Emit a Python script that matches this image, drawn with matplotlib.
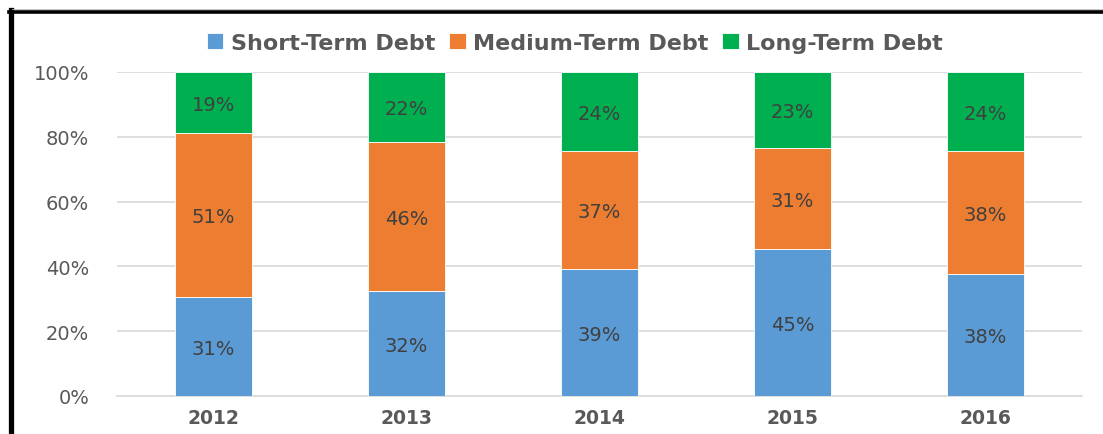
import matplotlib
matplotlib.use('Agg')
import matplotlib.pyplot as plt
from matplotlib.lines import Line2D
import numpy as np

# Data (share of total debt, %)
years = ['2012', '2013', '2014', '2015', '2016']
short_term = [30.6, 32.4, 39.1, 45.4, 37.7]
medium_term = [50.6, 46.0, 36.6, 31.2, 37.9]
long_term = [18.8, 21.6, 24.3, 23.4, 24.4]
series_names = ['Short-Term Debt', 'Medium-Term Debt', 'Long-Term Debt']
colors = ['#5B9BD5', '#ED7D31', '#00B050']

W, H = 1103, 435
fig = plt.figure(figsize=(W / 100, H / 100), dpi=100)
fig.patch.set_facecolor('white')

# axes placed in pixel terms
ax = fig.add_axes([117 / W, 38 / H, (1082 - 117) / W, 324 / H])

x = np.arange(len(years))
bottom = np.zeros(len(years))
for name, vals, c in zip(series_names, [short_term, medium_term, long_term], colors):
    vals = np.array(vals)
    bars = ax.bar(x, vals, width=0.4, bottom=bottom, color=c, label=name,
                  edgecolor='white', linewidth=0.6, zorder=3)
    for b, v, b0 in zip(bars, vals, bottom):
        ax.text(b.get_x() + b.get_width() / 2, b0 + v / 2 - 0.6, f'{v:.0f}%',
                ha='center', va='center', fontsize=14, color='#404040', zorder=4)
    bottom = bottom + vals

ax.set_xlim(-0.5, len(years) - 0.5)
ax.set_ylim(0, 100)
ax.set_yticks([0, 20, 40, 60, 80, 100])
ax.set_yticklabels([f'{t}%' for t in [0, 20, 40, 60, 80, 100]])
ax.set_xticks(x)
ax.set_xticklabels(years, fontweight='bold')
ax.tick_params(axis='y', length=0, pad=20, labelsize=14, labelcolor='#595959')
ax.tick_params(axis='x', length=0, pad=9, labelsize=13.5, labelcolor='#595959')
ax.grid(axis='y', color='#D9D9D9', linewidth=1.2, zorder=0)
for s in ['top', 'right', 'left']:
    ax.spines[s].set_visible(False)
ax.spines['bottom'].set_color('#D9D9D9')
ax.spines['bottom'].set_linewidth(1.2)

# legend on top
leg = fig.legend(loc='center', bbox_to_anchor=(575 / W, 1 - 44 / H), ncol=3,
                 frameon=False, prop={'weight': 'bold', 'size': 16},
                 handlelength=0.75, handleheight=0.75, handletextpad=0.35,
                 columnspacing=0.6)
for t in leg.get_texts():
    t.set_color('#595959')

# black frame round the chart (cropped on the right and bottom)
fig.add_artist(Line2D([10.5 / W, 10.5 / W], [0, 1 - 11 / H], color='black',
                      linewidth=3.8, transform=fig.transFigure))
fig.add_artist(Line2D([8.5 / W, 1], [1 - 12.5 / H, 1 - 12.5 / H], color='black',
                      linewidth=2.6, transform=fig.transFigure))
fig.add_artist(Line2D([12 / W, 1], [1 - 9.5 / H, 1 - 9.5 / H], color='#BBBBBB',
                      linewidth=0.6, transform=fig.transFigure))

plt.savefig('out.png', dpi=100)
